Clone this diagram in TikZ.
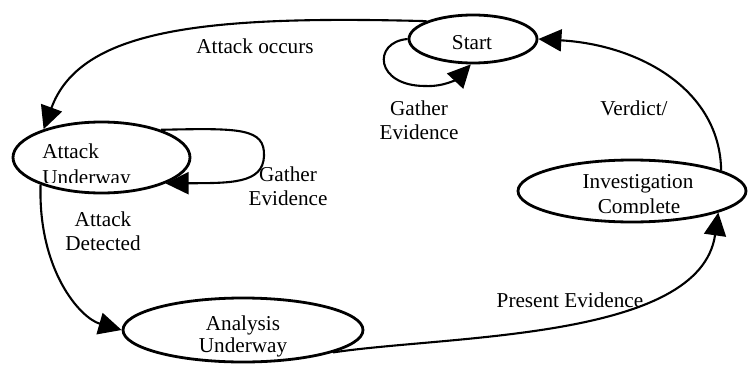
\documentclass[tikz,border=0pt]{standalone}
\usepackage{fontspec}
\setmainfont{Liberation Serif}
\usetikzlibrary{shapes.geometric,arrows.meta}

\begin{document}
\begin{tikzpicture}[x=0.5pt,y=-0.5pt,font=\fontsize{10.6}{12}\selectfont,
	every node/.style={align=center,inner sep=0pt},
	state/.style={ellipse,draw,line width=1.4pt},
	trans/.style={line width=1.05pt,-{Triangle[length=11.5pt,width=11pt]}}]
		\useasboundingbox (0,0) rectangle (748,369);
		% states
		\node[state,minimum width=64pt,minimum height=24pt] (start) at (473,39) {};
		\node[state,minimum width=88.5pt,minimum height=35.5pt] (attack) at (101.5,157.5) {};
		\node[state,minimum width=120pt,minimum height=32pt] (analysis) at (243,330) {};
		\node[state,minimum width=114pt,minimum height=31pt] (invest) at (632,191) {};
		% state texts, cut off at the bottom as in the original
		\node[anchor=base] at (472,50) {Start};
		\begin{scope}
			\clip (14,122) rectangle (189,182);
			\node[anchor=base west] at (42,158) {Attack};
			\node[anchor=base west] at (42,184) {Underway};
		\end{scope}
		\node[anchor=base] at (243,330) {Analysis};
		\node[anchor=base] at (243,352) {Underway};
		\begin{scope}
			\clip (520,161) rectangle (744,213);
			\node[anchor=base] at (638,188) {Investigation};
			\node[anchor=base] at (639,213) {Complete};
		\end{scope}
		% transitions
		\draw[trans] (start.159) .. controls (200,15) and (80,30) .. (attack.154); % attack occurs
		\draw[trans] (start.west) .. controls (372,42) and (375,86) .. (425,86) .. controls (445,87) and (458,78) .. (start.265); % gather at start
		\draw[trans] (attack.25) .. controls (240,128) and (265,128) .. (264,156) .. controls (263,184) and (230,183) .. (attack.-22); % gather while underway
		\draw[trans] (attack.204) .. controls (38,270) and (80,318) .. (analysis.west); % detected
		\draw[trans] (analysis.-14) .. controls (450,335) and (700,340) .. (invest.-14); % present evidence
		\draw[trans] (invest.13) .. controls (720,90) and (640,45) .. (start.east); % verdict
		% labels
		\node (occurs) at (255,46) {Attack occurs};
		\node (gatherA) at (419,120) {Gather\\Evidence};
		\node (gatherB) at (288,186) {Gather\\Evidence};
		\node (detected) at (103,231) {Attack\\Detected};
		\node (present) at (570,300) {Present Evidence};
		\node (verdict) at (634,108) {Verdict/};
	\end{tikzpicture}
\end{document}
